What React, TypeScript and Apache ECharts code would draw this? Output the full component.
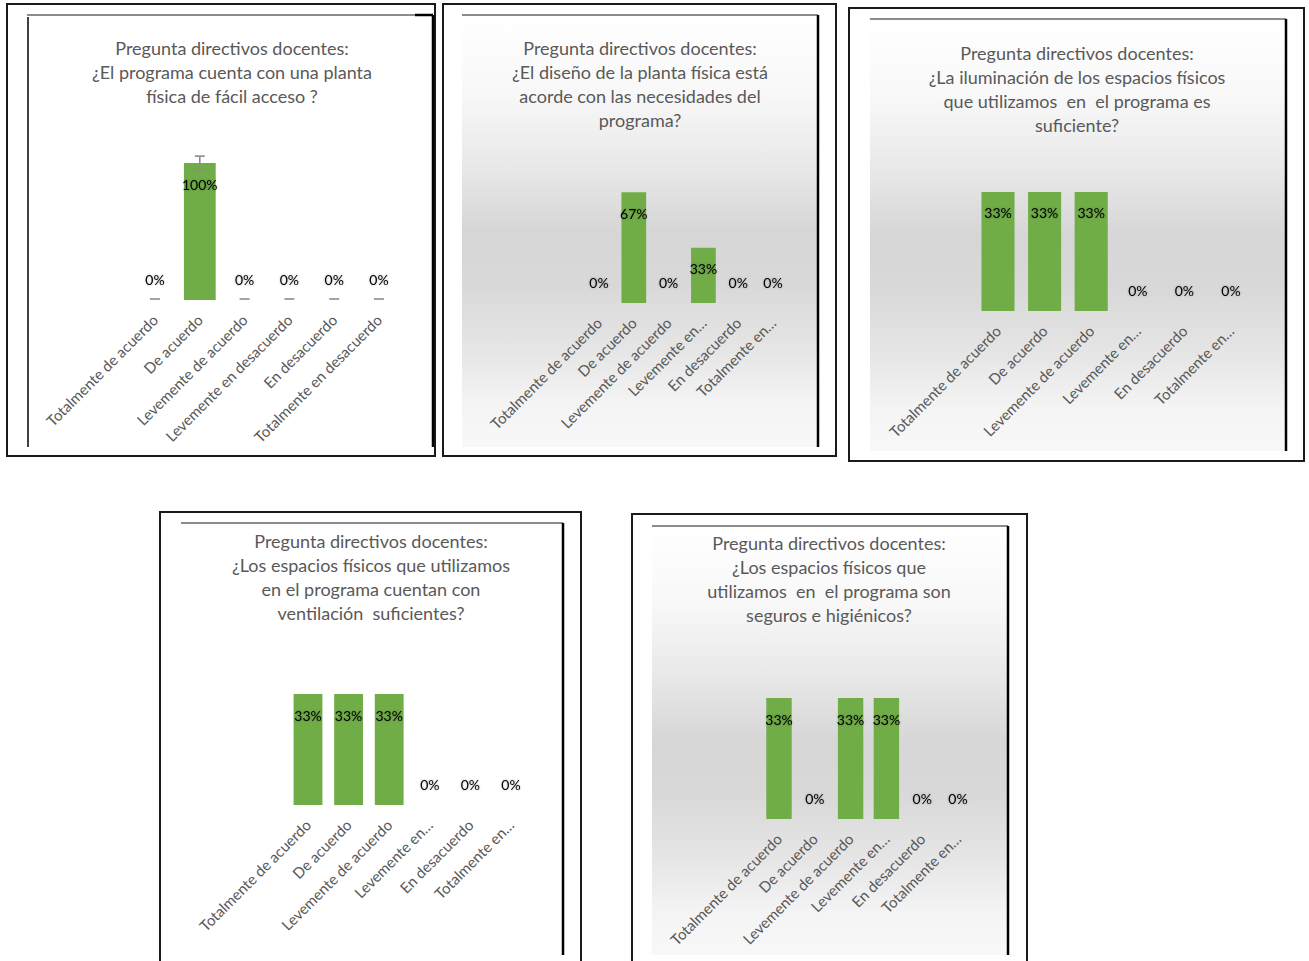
import React, { useEffect, useRef } from "react";
import * as echarts from "echarts";

// ---- data ----
const fullCategories = [
  "Totalmente de acuerdo",
  "De acuerdo",
  "Levemente de acuerdo",
  "Levemente en desacuerdo",
  "En desacuerdo",
  "Totalmente en desacuerdo",
];
const shortCategories = [
  "Totalmente de acuerdo",
  "De acuerdo",
  "Levemente de acuerdo",
  "Levemente en…",
  "En desacuerdo",
  "Totalmente en…",
];

const titleAcceso =
  "Pregunta directivos docentes:\n¿El programa cuenta con una planta\nfísica de fácil acceso ?";
const titleDiseno =
  "Pregunta directivos docentes:\n¿El diseño de la planta física está\nacorde con las necesidades del\nprograma?";
const titleIluminacion =
  "Pregunta directivos docentes:\n¿La iluminación de los espacios físicos\nque utilizamos  en  el programa es\nsuficiente?";
const titleVentilacion =
  "Pregunta directivos docentes:\n¿Los espacios físicos que utilizamos\nen el programa cuentan con\nventilación  suficientes?";
const titleSeguridad =
  "Pregunta directivos docentes:\n¿Los espacios físicos que\nutilizamos  en  el programa son\nseguros e higiénicos?";

const valuesAcceso = [0, 1, 0, 0, 0, 0];
const valuesDiseno = [0, 0.6667, 0, 0.3333, 0, 0];
const valuesIluminacion = [0.3333, 0.3333, 0.3333, 0, 0, 0];
const valuesVentilacion = [0.3333, 0.3333, 0.3333, 0, 0, 0];
const valuesSeguridad = [0.3333, 0, 0.3333, 0.3333, 0, 0];
const errorAcceso = 0.05;

// ---- layout ----
type Panel = {
  title: string;
  cats: string[];
  values: number[];
  titleX: number;
  titleTop: number;
  grid: { left: number; top: number; width: number; height: number };
  yMax: number;
  outer: [number, number, number, number];
  innerTop: number;
  innerLeft: number;
  innerRight: number;
  innerBottom: number;
  gradient: boolean;
  leftLine?: boolean;
};

const panels: Panel[] = [
  {
    title: titleAcceso,
    cats: fullCategories,
    values: valuesAcceso,
    titleX: 232,
    titleTop: 36,
    grid: { left: 132.6, top: 163, width: 268.8, height: 137 },
    yMax: 1,
    outer: [7, 4, 428, 452],
    innerTop: 15,
    innerLeft: 27,
    innerRight: 433,
    innerBottom: 447,
    gradient: false,
    leftLine: true,
  },
  {
    title: titleDiseno,
    cats: shortCategories,
    values: valuesDiseno,
    titleX: 640,
    titleTop: 36,
    grid: { left: 581.6, top: 137, width: 208.8, height: 166 },
    yMax: 1,
    outer: [443, 4, 393, 452],
    innerTop: 15,
    innerLeft: 462,
    innerRight: 818,
    innerBottom: 447,
    gradient: true,
  },
  {
    title: titleIluminacion,
    cats: shortCategories,
    values: valuesIluminacion,
    titleX: 1077,
    titleTop: 41,
    grid: { left: 974.7, top: 186, width: 279.6, height: 125 },
    yMax: 0.35,
    outer: [849, 8, 455, 453],
    innerTop: 19,
    innerLeft: 870,
    innerRight: 1286,
    innerBottom: 451,
    gradient: true,
  },
  {
    title: titleVentilacion,
    cats: shortCategories,
    values: valuesVentilacion,
    titleX: 371,
    titleTop: 529,
    grid: { left: 287.7, top: 688.5, width: 243.6, height: 116.5 },
    yMax: 0.35,
    outer: [160, 512, 421, 470],
    innerTop: 523,
    innerLeft: 181,
    innerRight: 563,
    innerBottom: 955,
    gradient: false,
  },
  {
    title: titleSeguridad,
    cats: shortCategories,
    values: valuesSeguridad,
    titleX: 829,
    titleTop: 531,
    grid: { left: 761.1, top: 692, width: 214.8, height: 127 },
    yMax: 0.35,
    outer: [632, 514, 395, 470],
    innerTop: 526,
    innerLeft: 652,
    innerRight: 1008,
    innerBottom: 955,
    gradient: true,
  },
];

const FONT = "Lato, 'Open Sans', sans-serif";
const GREEN = "#70ad47";
const GREY_TEXT = "#595959";

function buildOption() {
  const graphics: any[] = [];
  panels.forEach((p) => {
    const [ox, oy, ow, oh] = p.outer;
    if (p.gradient) {
      graphics.push({
        type: "rect",
        z: -10,
        silent: true,
        shape: {
          x: p.innerLeft,
          y: p.innerTop + 1,
          width: p.innerRight - p.innerLeft - 1,
          height: p.innerBottom - p.innerTop - 1,
        },
        style: {
          fill: new echarts.graphic.LinearGradient(0, 0, 0, 1, [
            { offset: 0, color: "#ffffff" },
            { offset: 0.18, color: "#f8f8f8" },
            { offset: 0.35, color: "#e8e8e8" },
            { offset: 0.5, color: "#d6d6d6" },
            { offset: 0.62, color: "#d8d8d8" },
            { offset: 0.78, color: "#e6e6e6" },
            { offset: 0.9, color: "#f4f4f4" },
            { offset: 1, color: "#f8f8f8" },
          ]),
        },
      });
    }
    graphics.push({
      type: "rect",
      z: 100,
      silent: true,
      shape: { x: ox, y: oy, width: ow, height: oh },
      style: { fill: "none", stroke: "#1a1a1a", lineWidth: 2 },
    });
    graphics.push({
      type: "line",
      z: 100,
      silent: true,
      shape: { x1: p.innerLeft, y1: p.innerTop, x2: p.innerRight, y2: p.innerTop },
      style: { stroke: "#1a1a1a", lineWidth: 1.2 },
    });
    graphics.push({
      type: "line",
      z: 100,
      silent: true,
      shape: { x1: p.innerRight, y1: p.innerTop, x2: p.innerRight, y2: p.innerBottom },
      style: { stroke: "#000000", lineWidth: 2.5 },
    });
    if (p.leftLine) {
      graphics.push({
        type: "line",
        z: 100,
        silent: true,
        shape: { x1: p.innerLeft + 1, y1: p.innerTop + 2, x2: p.innerLeft + 1, y2: p.innerBottom },
        style: { stroke: "#000000", lineWidth: 1.5 },
      });
      graphics.push({
        type: "line",
        z: 100,
        silent: true,
        shape: { x1: p.innerRight - 18, y1: p.innerTop, x2: p.innerRight, y2: p.innerTop },
        style: { stroke: "#000000", lineWidth: 2.5 },
      });
    }
  });

  const series: any[] = [];
  panels.forEach((p, i) => {
    series.push({
      type: "bar",
      xAxisIndex: i,
      yAxisIndex: i,
      barWidth: "71%",
      itemStyle: { color: GREEN },
      data: p.values.map((v) => ({
        value: v,
        label:
          v === 0
            ? { position: "top", distance: 14 }
            : { position: "insideTop", distance: 14 },
      })),
      label: {
        show: true,
        fontFamily: FONT,
        fontSize: 14,
        color: "#000000",
        textShadowColor: "rgba(0,0,0,0.3)",
        textShadowBlur: 2,
        formatter: (d: any) => Math.round(d.value * 100) + "%",
      },
    });
  });

  // error bars on the first chart
  series.push({
    type: "custom",
    xAxisIndex: 0,
    yAxisIndex: 0,
    z: 5,
    clip: false,
    silent: true,
    data: valuesAcceso.map((v, idx) => [idx, v, errorAcceso]),
    renderItem: (params: any, api: any) => {
      const idx = api.value(0);
      const v = api.value(1);
      const e = api.value(2);
      const lo = api.coord([idx, Math.max(0, v - e)]);
      const hi = api.coord([idx, v + e]);
      const x = lo[0];
      const half = 5;
      const style = { stroke: "#8c8c8c", lineWidth: 1.6 };
      if (v === 0) {
        return {
          type: "line",
          shape: { x1: x - half, y1: lo[1] - 1, x2: x + half, y2: lo[1] - 1 },
          style,
        };
      }
      return {
        type: "group",
        children: [
          { type: "line", shape: { x1: x, y1: lo[1], x2: x, y2: hi[1] }, style },
          { type: "line", shape: { x1: x - half, y1: hi[1], x2: x + half, y2: hi[1] }, style },
          { type: "line", shape: { x1: x - half, y1: lo[1], x2: x + half, y2: lo[1] }, style },
        ],
      };
    },
  });

  return {
    animation: false,
    backgroundColor: "#ffffff",
    textStyle: { fontFamily: FONT },
    title: panels.map((p) => ({
      text: p.title,
      left: p.titleX,
      top: p.titleTop,
      textAlign: "center",
      padding: 0,
      textStyle: {
        fontFamily: FONT,
        fontSize: 18,
        lineHeight: 24,
        fontWeight: "normal",
        color: GREY_TEXT,
      },
    })),
    grid: panels.map((p) => ({ ...p.grid, containLabel: false })),
    xAxis: panels.map((p, i) => ({
      type: "category",
      gridIndex: i,
      data: p.cats,
      axisLine: { show: false },
      axisTick: { show: false },
      axisLabel: {
        interval: 0,
        rotate: 45,
        margin: 17,
        fontSize: 15,
        fontFamily: FONT,
        color: GREY_TEXT,
      },
    })),
    yAxis: panels.map((p, i) => ({
      type: "value",
      gridIndex: i,
      min: 0,
      max: p.yMax,
      show: false,
      splitLine: { show: false },
    })),
    graphic: graphics,
    series,
  };
}

export default function App() {
  const ref = useRef<HTMLDivElement>(null);
  useEffect(() => {
    if (!ref.current) return;
    const chart = echarts.init(ref.current, undefined, { renderer: "svg" });
    chart.setOption(buildOption() as any);
    return () => chart.dispose();
  }, []);
  return (
    <div
      ref={ref}
      style={{ position: "absolute", left: 0, top: 0, width: 1309, height: 961 }}
    />
  );
}
